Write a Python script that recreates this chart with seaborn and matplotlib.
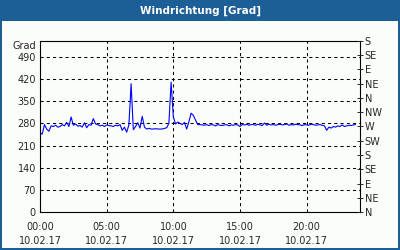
import numpy as np
import pandas as pd
import matplotlib
matplotlib.use("Agg")
import matplotlib.pyplot as plt
from matplotlib.patches import Rectangle
import seaborn as sns

title = "Windrichtung [Grad]"
y_label = "Grad"
left_ticks = [0, 70, 140, 210, 280, 350, 420, 490]
right_ticks = [0, 45, 90, 135, 180, 225, 270, 315, 360, 405, 450, 495, 540]
right_labels = ["N", "NE", "E", "SE", "S", "SW", "W", "NW", "N", "NE", "E", "SE", "S"]
x_ticks = [0, 5, 10, 15, 20]
x_labels = ["00:00\n10.02.17", "05:00\n10.02.17", "10:00\n10.02.17",
            "15:00\n10.02.17", "20:00\n10.02.17"]

# wind direction, 10-minute samples starting 00:00
direction = [
    250, 246, 276, 262, 255, 272,
    270, 274, 268, 270, 276, 272,
    283, 270, 300, 274, 278, 271,
    273, 268, 282, 266, 276, 274,
    295, 278, 276, 272, 274, 270,
    275, 273, 272, 270, 274, 272,
    276, 258, 268, 252, 275, 405,
    260, 270, 282, 265, 302, 268,
    262, 264, 262, 262, 263, 262,
    262, 262, 264, 266, 280, 410,
    300, 278, 284, 280, 276, 283,
    262, 285, 312, 305, 290, 276,
    276, 275, 274, 276, 273, 276,
    275, 272, 276, 274, 273, 275,
    276, 272, 275, 274, 276, 275,
    270, 276, 275, 277, 274, 276,
    276, 274, 277, 275, 273, 281,
    274, 277, 275, 276, 274, 276,
    277, 275, 276, 278, 274, 276,
    275, 277, 276, 275, 273, 276,
    275, 274, 277, 276, 274, 275,
    276, 274, 272, 258, 268, 265,
    270, 268, 272, 270, 275, 270,
    272, 274, 273, 275, 276,
]
hours = [i / 6 for i in range(len(direction))]

sns.set_style("white")
plt.rcParams["font.family"] = ["DejaVu Sans"]

fig = plt.figure(figsize=(4, 2.5), dpi=100)
blue = "#1c5f96"
fig.patch.set_facecolor(blue)
bg = Rectangle((2 / 400, 2 / 250), 396 / 400, (229 - 2) / 250,
               transform=fig.transFigure, facecolor="#fbfdfb",
               edgecolor="none", zorder=-10)
fig.add_artist(bg)
fig.text(0.5, 1 - 10.5 / 250, title, color="white", fontsize=7.5,
         fontweight="bold", ha="center", va="center")

ax = fig.add_axes([40 / 400, (250 - 212) / 250, 320 / 400, 171 / 250])
ax.set_facecolor("none")

df = pd.DataFrame({"hour": hours, "dir": direction})
sns.lineplot(data=df, x="hour", y="dir", ax=ax, color="#0000ff", lw=0.8)

ax.set_xlim(0, 24)
ax.set_ylim(0, 540)
ax.set_xlabel("")
ax.set_ylabel("")
ax.set_xticks(x_ticks)
ax.set_xticklabels(x_labels, fontsize=7, linespacing=1.5)
ax.set_xticks(range(0, 25), minor=True)
ax.set_yticks(left_ticks)
ax.set_yticklabels([str(v) for v in left_ticks], fontsize=7)
ax.tick_params(axis="x", which="minor", direction="in", length=3, width=0.7,
               color="black")
ax.tick_params(axis="x", which="major", length=0, pad=7)
ax.tick_params(axis="y", which="major", length=0, pad=3)
ax.grid(True, which="major", color="black", linestyle=(0, (3, 3)), lw=0.75)
for s in ax.spines.values():
    s.set_color("black")
    s.set_linewidth(0.8)

ax2 = ax.twinx()
ax2.set_ylim(0, 540)
ax2.set_yticks(right_ticks)
ax2.set_yticklabels(right_labels, fontsize=7)
ax2.tick_params(axis="y", direction="inout", length=5, width=0.7, pad=1)
for s in ax2.spines.values():
    s.set_visible(False)

ax.text(-0.012, 1.0, y_label, transform=ax.transAxes, ha="right", va="top",
        fontsize=7)

fig.savefig("out.png", dpi=100, facecolor=fig.get_facecolor())
